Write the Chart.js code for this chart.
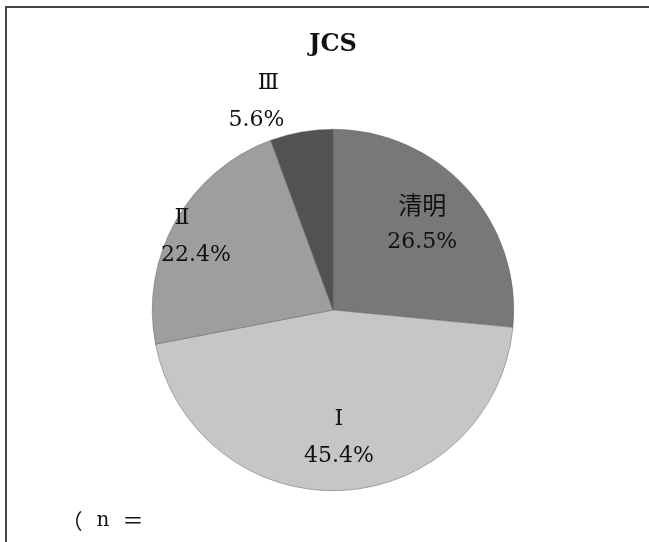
<!DOCTYPE html>
<html>
<head>
<meta charset="utf-8">
<script src="https://cdn.jsdelivr.net/npm/chart.js@4.4.0/dist/chart.umd.min.js"></script>
<style>
  html, body { margin: 0; padding: 0; background: #fff; }
  #wrap { width: 649px; height: 542px; position: relative; }
</style>
</head>
<body>
<div id="wrap"><canvas id="jcs"></canvas></div>
<script>
const categories = ['清明', 'Ⅰ', 'Ⅱ', 'Ⅲ'];
const percents = [26.5, 45.4, 22.4, 5.6];
const sliceColors = ['#787878', '#c6c6c6', '#9e9e9e', '#525252'];

// where each label sits: fraction of radius from centre, plus small nudges
const labelRadius = [0.69, 0.70, 0.89, 1.22];
const labelNudge = [[-3, -3], [0, 1], [3, 5], [-38, 8]];
const nameShift = [0, 0, -14, 12];

const serif = '"DejaVu Serif", "Liberation Serif", serif';
const cjk = '"Noto Sans CJK JP", "Noto Sans CJK SC", sans-serif';

const decor = {
  id: 'decor',
  afterDraw(chart) {
    const ctx = chart.ctx;
    ctx.save();

    // frame (only left + top show in the scan)
    ctx.strokeStyle = '#444';
    ctx.lineWidth = 2;
    ctx.beginPath();
    ctx.moveTo(6, 542);
    ctx.lineTo(6, 7);
    ctx.lineTo(649, 7);
    ctx.stroke();

    ctx.fillStyle = '#111';
    ctx.textAlign = 'center';
    ctx.textBaseline = 'middle';
    ctx.font = 'bold 24px ' + serif;
    ctx.fillText('JCS', 333, 45);

    const arcs = chart.getDatasetMeta(0).data;
    arcs.forEach((arc, i) => {
      const mid = (arc.startAngle + arc.endAngle) / 2;
      const r = arc.outerRadius * labelRadius[i];
      const x = arc.x + Math.cos(mid) * r + labelNudge[i][0];
      const y = arc.y + Math.sin(mid) * r + labelNudge[i][1];
      const name = categories[i];
      ctx.font = (name === '清明' ? '24px ' + cjk : '22px ' + serif);
      ctx.fillText(name, x + nameShift[i], y - 18);
      ctx.font = '22px ' + serif;
      ctx.fillText(percents[i].toFixed(1) + '%', x, y + 19);
    });

    // "(n=" note, spaced out like the scan
    ctx.font = '21px ' + cjk;
    ctx.fillText('（', 72, 521);
    ctx.fillText('＝', 133, 520);
    ctx.font = '20px ' + serif;
    ctx.fillText('n', 103, 521);
    ctx.restore();
  }
};

new Chart(document.getElementById('jcs'), {
  type: 'pie',
  data: {
    labels: categories,
    datasets: [{
      data: percents,
      backgroundColor: sliceColors,
      borderWidth: 0.5,
      borderColor: '#666'
    }]
  },
  options: {
    responsive: true,
    maintainAspectRatio: false,
    animation: false,
    layout: { padding: { top: 129, bottom: 51, left: 152, right: 135 } },
    plugins: {
      legend: { display: false },
      tooltip: { enabled: false }
    }
  },
  plugins: [decor]
});
</script>
</body>
</html>
